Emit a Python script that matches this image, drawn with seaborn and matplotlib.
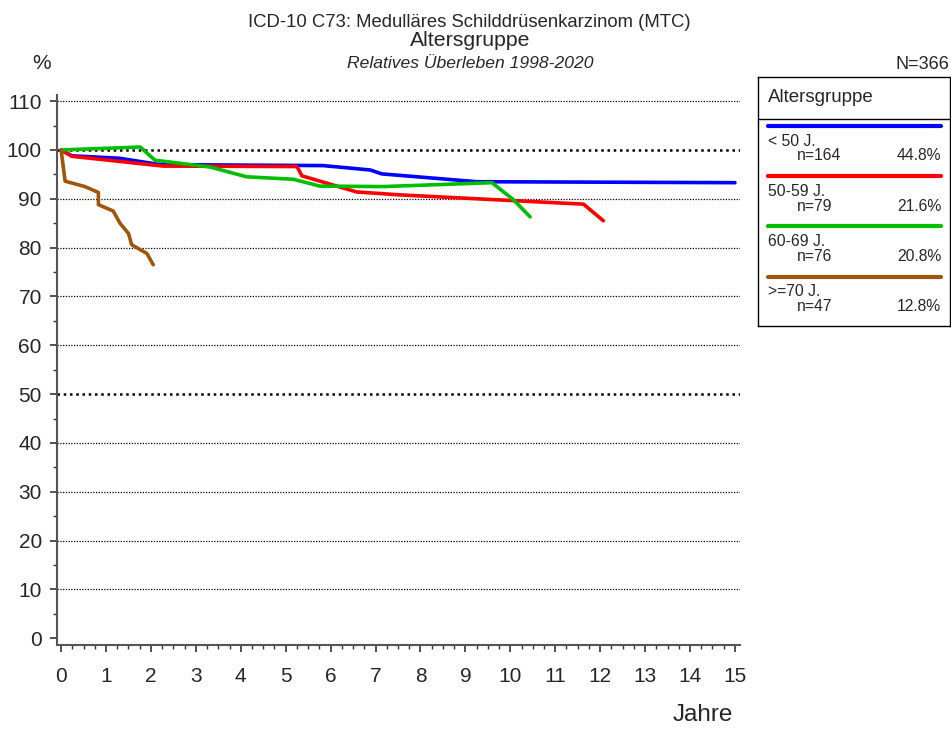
import numpy as np
import pandas as pd
import matplotlib.pyplot as plt
import seaborn as sns
from matplotlib.lines import Line2D

# ---- data ----
groups = ["< 50 J.", "50-59 J.", "60-69 J.", ">=70 J."]
n_cases = [164, 79, 76, 47]
shares = ["44.8%", "21.6%", "20.8%", "12.8%"]
colors = ["#0000FF", "#FF0000", "#00BF00", "#A0560A"]

years_lt50 = [0, 0.24, 1.3, 2.2, 5.83, 6.88, 7.14, 9.25, 15.0]
surv_lt50 = [100, 98.8, 98.3, 97.0, 96.8, 95.9, 95.1, 93.5, 93.3]

years_50_59 = [0, 0.24, 2.27, 5.25, 5.36, 6.58, 7.54, 11.63, 12.07]
surv_50_59 = [100, 98.7, 96.7, 96.6, 94.7, 91.4, 90.8, 88.9, 85.5]

years_60_69 = [0, 1.76, 2.09, 3.32, 4.13, 5.17, 5.76, 7.17, 9.59, 10.07, 10.44]
surv_60_69 = [100, 100.6, 97.9, 96.5, 94.5, 94.0, 92.6, 92.5, 93.3, 89.8, 86.3]

years_ge70 = [0, 0.09, 0.53, 0.83, 0.83, 1.16, 1.31, 1.5, 1.57, 1.91, 2.05]
surv_ge70 = [100, 93.6, 92.5, 91.3, 88.8, 87.5, 85.0, 82.9, 80.6, 78.8, 76.5]

curves = [(years_lt50, surv_lt50), (years_50_59, surv_50_59),
          (years_60_69, surv_60_69), (years_ge70, surv_ge70)]

df = pd.concat([pd.DataFrame({"Jahre": x, "Prozent": y, "Gruppe": g})
                for g, (x, y) in zip(groups, curves)], ignore_index=True)

# ---- style ----
sns.set_style("ticks")
plt.rcParams["font.family"] = ["Liberation Sans", "DejaVu Sans"]

fig = plt.figure(figsize=(9.51, 7.29), dpi=100)
ax = fig.add_axes([0.060, 0.115, 0.718, 0.755])

# gridlines
for yv in range(10, 111, 10):
    bold = yv in (50, 100)
    ax.axhline(yv, color="black", lw=1.8 if bold else 0.9,
               ls=(0, (1, 1.5)) if bold else (0, (1, 1.2)), zorder=1)

sns.lineplot(data=df, x="Jahre", y="Prozent", hue="Gruppe", hue_order=groups,
             palette=dict(zip(groups, colors)), sort=False, estimator=None,
             lw=2.6, legend=False, ax=ax, zorder=3)

ax.set_xlim(-0.09, 15.11)
ax.set_ylim(-1.4, 111.3)
ax.set_xticks(range(0, 16))
ax.set_xticks(np.arange(0, 15.01, 0.25), minor=True)
ax.set_yticks(range(0, 111, 10))
ax.set_yticks(range(0, 111, 5), minor=True)
ax.tick_params(axis="both", which="major", labelsize=15, length=5, width=1.2, color="#333333")
ax.tick_params(axis="both", which="minor", length=3, width=1.0, color="#333333")
ax.tick_params(axis="x", which="major", pad=11)
ax.tick_params(axis="y", which="major", pad=6)
ax.set_xlabel("")
ax.set_ylabel("")
for s in ["top", "right"]:
    ax.spines[s].set_visible(False)
for s in ["left", "bottom"]:
    ax.spines[s].set_color("#555555")
    ax.spines[s].set_linewidth(1.5)

# titles
fig.text(0.494, 0.963, "ICD-10 C73: Medulläres Schilddrüsenkarzinom (MTC)",
         ha="center", va="baseline", fontsize=13.3)
fig.text(0.494, 0.937, "Altersgruppe", ha="center", va="baseline", fontsize=15.3)
fig.text(0.494, 0.907, "Relatives Überleben 1998-2020", ha="center", va="baseline",
         fontsize=12.6, style="italic")
fig.text(0.044, 0.913, "%", ha="center", va="center", fontsize=15)
fig.text(0.998, 0.905, "N=366", ha="right", va="baseline", fontsize=13)
fig.text(0.739, 0.011, "Jahre", ha="center", va="baseline", fontsize=17.5)

# legend box (its own axes, laid out in pixel units of the figure)
lg = fig.add_axes([758 / 951, 1 - 326 / 729, 192 / 951, 249 / 729])
lg.set_xlim(758, 950)
lg.set_ylim(326, 77)
lg.set_xticks([])
lg.set_yticks([])
for s in lg.spines.values():
    s.set_linewidth(1.0)
    s.set_color("black")
lg.axhline(119, color="black", lw=1.0)
lg.text(768, 97, "Altersgruppe", va="center", ha="left", fontsize=13.5)
for i, (g, n, p, c) in enumerate(zip(groups, n_cases, shares, colors)):
    ytop = 126 + i * 50.2
    lg.add_line(Line2D([768, 941], [ytop, ytop], color=c, lw=3))
    lg.text(768, ytop + 19.5, g, va="baseline", ha="left", fontsize=11.3)
    lg.text(797, ytop + 34.5, f"n={n}", va="baseline", ha="left", fontsize=11.3)
    lg.text(941, ytop + 34.5, p, va="baseline", ha="right", fontsize=11.3)

fig.savefig("out.png", dpi=100)
